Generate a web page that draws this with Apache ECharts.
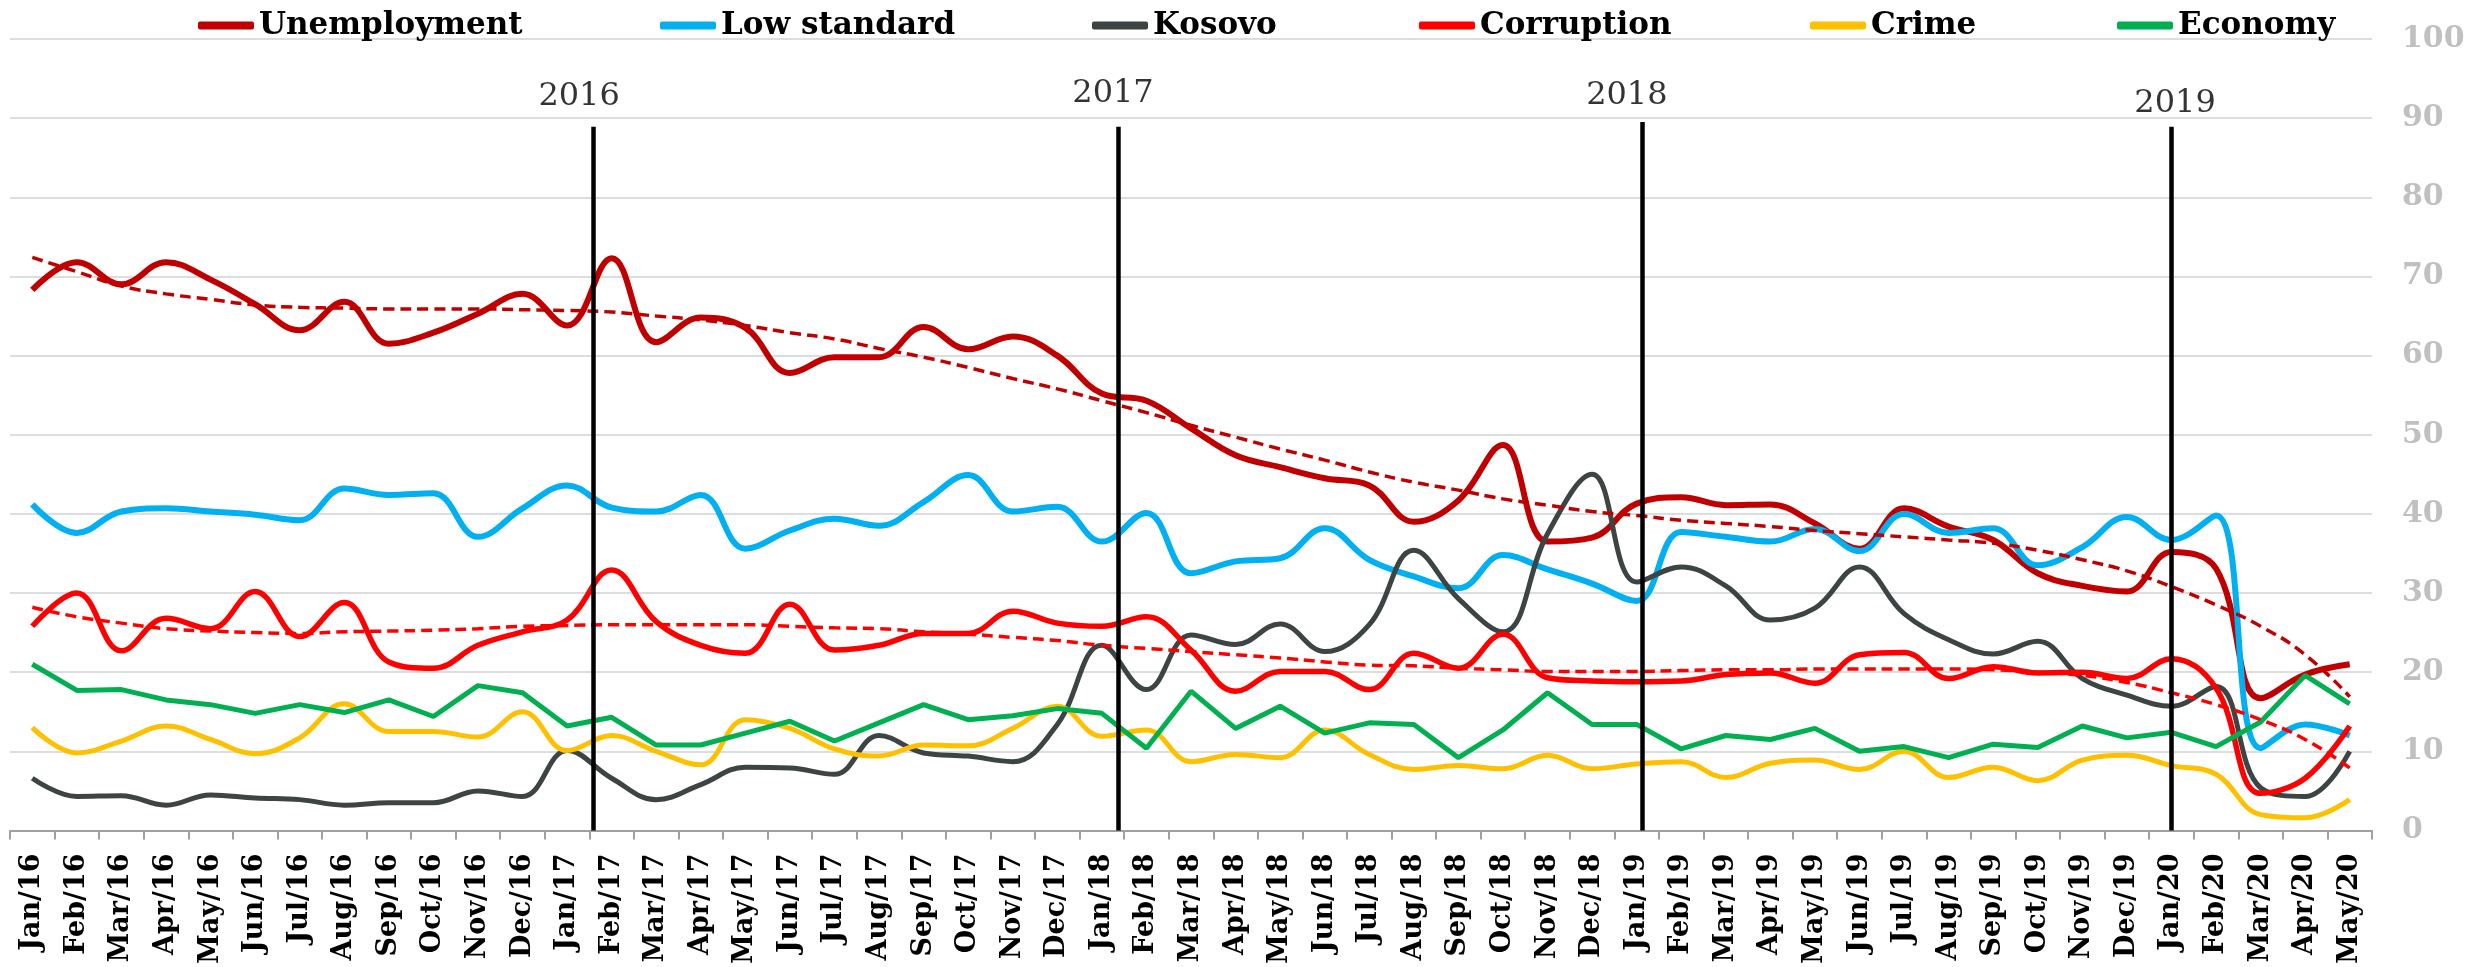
<!DOCTYPE html>
<html>
<head>
<meta charset="utf-8">
<title>Problems chart</title>
<script src="https://cdn.jsdelivr.net/npm/echarts@6/dist/echarts.min.js"></script>
<style>
  html, body { margin: 0; padding: 0; background: #fff; }
  #chart { width: 2476px; height: 967px; }
</style>
</head>
<body>
<div id="chart"></div>
<script>
// months Jan/16 .. May/20
const months = [
  "Jan/16", "Feb/16", "Mar/16", "Apr/16", "May/16", "Jun/16", "Jul/16", "Aug/16", "Sep/16", "Oct/16", "Nov/16", "Dec/16",
  "Jan/17", "Feb/17", "Mar/17", "Apr/17", "May/17", "Jun/17", "Jul/17", "Aug/17", "Sep/17", "Oct/17", "Nov/17", "Dec/17",
  "Jan/18", "Feb/18", "Mar/18", "Apr/18", "May/18", "Jun/18", "Jul/18", "Aug/18", "Sep/18", "Oct/18", "Nov/18", "Dec/18",
  "Jan/19", "Feb/19", "Mar/19", "Apr/19", "May/19", "Jun/19", "Jul/19", "Aug/19", "Sep/19", "Oct/19", "Nov/19", "Dec/19",
  "Jan/20", "Feb/20", "Mar/20", "Apr/20", "May/20"
];

const unemployment = [
  68.3, 71.8, 69.0, 71.8, 69.6, 66.5, 63.2, 66.8, 61.5, 62.9, 65.3, 67.8,
  63.8, 72.3, 61.7, 64.8, 63.5, 57.8, 59.8, 59.8, 63.6, 60.8, 62.4, 60.0,
  55.2, 54.3, 50.8, 47.4, 45.9, 44.5, 43.6, 39.0, 41.7, 48.7, 36.5, 37.0,
  41.3, 42.1, 41.1, 41.2, 38.8, 35.6, 40.7, 38.4, 36.7, 32.5, 30.9, 30.2,
  35.2, 33.1, 16.7, 19.7, 21.0
];
const lowStandard = [
  41.2, 37.6, 40.3, 40.7, 40.3, 39.9, 39.2, 43.2, 42.4, 42.6, 37.1, 40.7,
  43.6, 40.8, 40.3, 42.4, 35.6, 37.9, 39.4, 38.5, 41.5, 44.9, 40.3, 40.9,
  36.5, 40.1, 32.5, 34.0, 34.4, 38.2, 34.2, 32.1, 30.6, 34.8, 33.0, 31.2,
  29.0, 37.7, 37.1, 36.5, 38.1, 35.3, 40.0, 37.6, 38.2, 33.5, 35.8, 39.6,
  36.7, 39.8, 10.4, 13.4, 12.0
];
const kosovo = [
  6.6, 4.3, 4.4, 3.2, 4.5, 4.1, 3.9, 3.2, 3.5, 3.5, 5.0, 4.3,
  10.1, 6.6, 3.9, 5.8, 8.0, 7.9, 7.1, 12.0, 9.8, 9.4, 8.7, 13.4,
  23.4, 17.8, 24.7, 23.5, 26.1, 22.6, 26.0, 35.4, 29.3, 25.1, 37.5, 45.0,
  31.4, 33.3, 30.9, 26.6, 28.1, 33.3, 27.4, 24.1, 22.3, 23.9, 19.2, 17.1,
  15.7, 18.2, 5.4, 4.3, 10.0
];
const corruption = [
  25.8, 30.0, 22.7, 26.8, 25.5, 30.2, 24.5, 28.8, 21.3, 20.5, 23.4, 25.1,
  26.6, 32.9, 26.4, 23.4, 22.4, 28.6, 22.8, 23.4, 24.9, 24.9, 27.7, 26.2,
  25.8, 27.0, 22.8, 17.6, 20.1, 20.1, 17.8, 22.4, 20.5, 24.8, 19.3, 18.9,
  18.8, 18.9, 19.7, 19.9, 18.6, 22.2, 22.5, 19.2, 20.7, 19.9, 20.0, 19.2,
  21.7, 18.0, 4.7, 6.6, 13.2
];
const crime = [
  13.0, 9.8, 11.3, 13.2, 11.5, 9.7, 11.7, 16.0, 12.5, 12.5, 11.8, 15.0,
  10.1, 12.0, 10.0, 8.3, 14.0, 12.9, 10.3, 9.4, 10.8, 10.7, 12.9, 15.7,
  11.9, 12.7, 8.7, 9.6, 9.2, 12.7, 9.6, 7.7, 8.2, 7.8, 9.5, 7.8,
  8.4, 8.7, 6.7, 8.5, 8.9, 7.7, 10.0, 6.7, 8.0, 6.3, 8.9, 9.5,
  8.2, 7.1, 2.0, 1.6, 3.9
];
const economy = [
  21.0, 17.7, 17.8, 16.5, 15.9, 14.8, 15.9, 14.9, 16.5, 14.4, 18.3, 17.4,
  13.2, 14.3, 10.8, 10.8, 12.3, 13.8, 11.3, 13.6, 15.9, 14.0, 14.5, 15.4,
  14.8, 10.4, 17.6, 12.9, 15.7, 12.3, 13.6, 13.4, 9.2, 12.7, 17.4, 13.4,
  13.4, 10.3, 12.0, 11.5, 12.9, 10.0, 10.6, 9.2, 10.9, 10.5, 13.2, 11.7,
  12.4, 10.6, 13.7, 19.6, 16.0
];

// dashed trend lines
const unemploymentTrend = [
  72.4, 70.6, 68.8, 67.8, 67.1, 66.4, 66.1, 66.0, 65.9, 65.9, 65.9, 65.8,
  65.7, 65.5, 65.0, 64.5, 63.8, 62.9, 62.1, 60.9, 59.8, 58.5, 57.1, 55.8,
  54.3, 52.8, 51.2, 49.7, 48.2, 46.8, 45.3, 44.0, 43.0, 41.9, 41.1, 40.3,
  39.8, 39.2, 38.8, 38.4, 37.9, 37.5, 37.1, 36.7, 36.3, 35.4, 34.2, 32.8,
  30.8, 28.5, 25.8, 22.2, 16.9
];
const corruptionTrend = [
  28.2, 27.0, 26.2, 25.5, 25.2, 25.0, 24.9, 25.1, 25.2, 25.3, 25.5, 25.8,
  25.9, 26.0, 26.0, 26.0, 26.0, 25.8, 25.6, 25.5, 25.1, 24.8, 24.4, 24.0,
  23.4, 23.0, 22.6, 22.2, 21.8, 21.3, 20.9, 20.8, 20.5, 20.3, 20.1, 20.1,
  20.1, 20.2, 20.3, 20.3, 20.4, 20.4, 20.4, 20.4, 20.3, 20.0, 19.6, 18.7,
  17.4, 15.9, 14.0, 11.5, 7.9
];

// year markers (x in month-band units, y in axis units)
const yearLabels = ["2016", "2017", "2018", "2019"];
const yearLabelX = [12.77, 24.75, 36.28, 48.58];
const yearLabelY = [92.7, 93.1, 92.8, 91.8];
const yearLineX = [13.08, 24.86, 36.62, 48.5];
const yearLineTop = [88.9, 88.9, 89.5, 88.9];

const yTicks = [0, 10, 20, 30, 40, 50, 60, 70, 80, 90, 100];

const FONT = "DejaVu Serif";

const seriesDefs = [
  { name: "Unemployment", data: unemployment, color: "#c00000", width: 6, smooth: 0.4 },
  { name: "Low standard", data: lowStandard, color: "#00b0f0", width: 6, smooth: 0.4 },
  { name: "Kosovo", data: kosovo, color: "#3c4444", width: 5, smooth: 0.4 },
  { name: "Corruption", data: corruption, color: "#ff0000", width: 5.5, smooth: 0.4 },
  { name: "Crime", data: crime, color: "#ffc000", width: 5, smooth: 0.4 },
  { name: "Economy", data: economy, color: "#00b050", width: 5, smooth: false },
];
const legendLeft = [193, 655, 1087, 1414, 1805, 2112];

const chart = echarts.init(document.getElementById("chart"));

const series = seriesDefs.map(function (s) {
  return {
    name: s.name,
    type: "line",
    data: s.data,
    smooth: s.smooth,
    symbol: "none",
    itemStyle: { color: s.color },
    lineStyle: { color: s.color, width: s.width },
    z: 3,
  };
});

series.push({
  name: "Unemployment trend",
  type: "line",
  data: unemploymentTrend,
  smooth: 0.5,
  symbol: "none",
  lineStyle: { color: "#c00000", width: 3.5, type: [11, 6] },
  z: 4,
});
series.push({
  name: "Corruption trend",
  type: "line",
  data: corruptionTrend,
  smooth: 0.5,
  symbol: "none",
  lineStyle: { color: "#ff0000", width: 3.5, type: [11, 6] },
  z: 4,
});

// year labels + vertical separators on the hidden value x axis
series.push({
  name: "years",
  type: "scatter",
  xAxisIndex: 1,
  symbolSize: 0,
  silent: true,
  z: 6,
  data: yearLabels.map(function (t, i) {
    return { name: t, value: [yearLabelX[i], yearLabelY[i]] };
  }),
  label: {
    show: true,
    position: "inside",
    formatter: "{b}",
    fontFamily: FONT,
    fontSize: 32,
    color: "#000",
  },
  markLine: {
    silent: true,
    symbol: "none",
    label: { show: false },
    lineStyle: { color: "#000", width: 4.5, type: "solid" },
    data: yearLineX.map(function (x, i) {
      return [{ coord: [x, 0] }, { coord: [x, yearLineTop[i]] }];
    }),
    z: 6,
  },
});

const option = {
  animation: false,
  backgroundColor: "#fff",
  legend: seriesDefs.map(function (s, i) {
    return {
      data: [s.name],
      left: legendLeft[i],
      top: 5,
      icon: "roundRect",
      itemWidth: 56,
      itemHeight: 8,
      textStyle: { fontFamily: FONT, fontSize: 31, fontWeight: "bold", color: "#000" },
      selectedMode: false,
    };
  }),
  grid: { left: 10, right: 104, top: 39, bottom: 134 },
  xAxis: [
    {
      type: "category",
      data: months,
      boundaryGap: true,
      axisLine: { lineStyle: { color: "#a0a0a0", width: 2 } },
      axisTick: { show: true, interval: 0, length: 9, lineStyle: { color: "#a0a0a0", width: 2 } },
      axisLabel: {
        interval: 0,
        rotate: 90,
        margin: 23,
        fontFamily: FONT,
        fontSize: 27,
        fontWeight: "bold",
        color: "#000",
      },
      splitLine: { show: false },
    },
    {
      type: "value",
      min: 0,
      max: months.length,
      show: false,
    },
  ],
  yAxis: {
    type: "value",
    position: "right",
    min: yTicks[0],
    max: yTicks[yTicks.length - 1],
    interval: 10,
    axisLine: { show: false },
    axisTick: { show: false },
    axisLabel: {
      margin: 30,
      fontFamily: FONT,
      fontSize: 30,
      fontWeight: "bold",
      color: "#c0c0c0",
    },
    splitLine: { lineStyle: { color: "#dadede", width: 2 } },
  },
  series: series,
};

chart.setOption(option);
</script>
</body>
</html>
